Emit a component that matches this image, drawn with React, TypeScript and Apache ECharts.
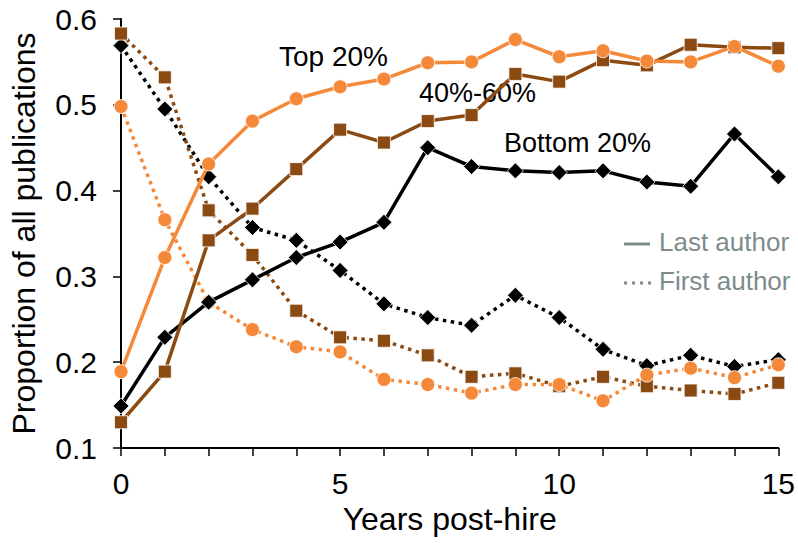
import React, { useEffect, useRef } from "react";
import * as echarts from "echarts";

const years = [0, 1, 2, 3, 4, 5, 6, 7, 8, 9, 10, 11, 12, 13, 14, 15];
const lastTop = [0.189, 0.322, 0.431, 0.481, 0.507, 0.521, 0.53, 0.549, 0.55, 0.576, 0.556, 0.563, 0.551, 0.55, 0.568, 0.545];
const lastMid = [0.13, 0.189, 0.342, 0.379, 0.425, 0.471, 0.456, 0.481, 0.488, 0.536, 0.527, 0.552, 0.546, 0.57, 0.567, 0.566];
const lastBottom = [0.149, 0.229, 0.27, 0.296, 0.322, 0.34, 0.363, 0.45, 0.428, 0.423, 0.421, 0.423, 0.41, 0.405, 0.466, 0.416];
const firstTop = [0.498, 0.366, 0.27, 0.238, 0.218, 0.212, 0.18, 0.174, 0.164, 0.174, 0.174, 0.155, 0.185, 0.193, 0.182, 0.197];
const firstMid = [0.583, 0.532, 0.377, 0.325, 0.26, 0.229, 0.225, 0.208, 0.183, 0.187, 0.172, 0.183, 0.172, 0.167, 0.163, 0.176];
const firstBottom = [0.569, 0.495, 0.416, 0.357, 0.342, 0.307, 0.268, 0.252, 0.243, 0.278, 0.252, 0.215, 0.196, 0.208, 0.195, 0.203];

const groupLabels = ["Top 20%", "40%-60%", "Bottom 20%"];
const legendLabels = ["Last author", "First author"];

const ORANGE = "#f5893a";
const BROWN = "#8a4a12";
const BLACK = "#000000";
const GRAY = "#7d8c8b";
const FONT = "'Liberation Sans', Arial, Helvetica, sans-serif";

function pairs(vals: number[]) {
  return years.map((y, i) => [y, vals[i]]);
}

function mkSeries(name: string, vals: number[], color: string, symbol: string, size: number, dotted: boolean, z: number) {
  return {
    name,
    type: "line",
    data: pairs(vals),
    symbol,
    symbolSize: size,
    showAllSymbol: true,
    z,
    itemStyle: { color, borderColor: "#ffffff", borderWidth: 0.8 },
    lineStyle: dotted
      ? { color, width: 3.5, type: [3.5, 4.5], cap: "butt" }
      : { color, width: 3.5, type: "solid" },
    emphasis: { disabled: true },
  };
}

export default function App() {
  const ref = useRef<HTMLDivElement>(null);
  useEffect(() => {
    if (!ref.current) return;
    const chart = echarts.init(ref.current, undefined, { renderer: "svg" });
    const option: any = {
      animation: false,
      backgroundColor: "#ffffff",
      grid: { left: 115, right: 19, top: 19, bottom: 95 },
      xAxis: {
        type: "value",
        min: 0,
        max: 15,
        interval: 1,
        name: "Years post-hire",
        nameLocation: "middle",
        nameGap: 55,
        nameTextStyle: { fontSize: 32, color: "#000", fontFamily: FONT },
        axisLine: { show: true, onZero: false, lineStyle: { color: "#000", width: 2 } },
        axisTick: { show: true, inside: false, length: 8, lineStyle: { color: "#000", width: 1.5 } },
        axisLabel: {
          fontSize: 30,
          color: "#000",
          fontFamily: FONT,
          margin: 20,
          formatter: (v: number) => (v % 5 === 0 ? String(v) : ""),
        },
        splitLine: { show: false },
      },
      yAxis: {
        type: "value",
        min: 0.1,
        max: 0.6,
        interval: 0.1,
        name: "Proportion of all publications",
        nameLocation: "middle",
        nameGap: 81,
        nameTextStyle: { fontSize: 32, color: "#000", fontFamily: FONT },
        axisLine: { show: true, onZero: false, lineStyle: { color: "#000", width: 2 } },
        axisTick: { show: true, inside: false, length: 8, lineStyle: { color: "#000", width: 1.5 } },
        axisLabel: {
          fontSize: 30,
          color: "#000",
          fontFamily: FONT,
          margin: 24,
          formatter: (v: number) => v.toFixed(1),
        },
        splitLine: { show: false },
      },
      series: [
        mkSeries("First Bottom 20%", firstBottom, BLACK, "diamond", 16, true, 2),
        mkSeries("First 40%-60%", firstMid, BROWN, "rect", 13, true, 3),
        mkSeries("First Top 20%", firstTop, ORANGE, "circle", 14, true, 4),
        mkSeries("Last Bottom 20%", lastBottom, BLACK, "diamond", 16, false, 5),
        mkSeries("Last 40%-60%", lastMid, BROWN, "rect", 13, false, 6),
        mkSeries("Last Top 20%", lastTop, ORANGE, "circle", 14, false, 7),
      ],
      graphic: [
        { type: "text", left: 279, top: 42, style: { text: groupLabels[0], fontSize: 28, fill: "#000", fontFamily: FONT } },
        { type: "text", left: 419, top: 79, style: { text: groupLabels[1], fontSize: 27, fill: "#000", fontFamily: FONT } },
        { type: "text", left: 504, top: 129, style: { text: groupLabels[2], fontSize: 27, fill: "#000", fontFamily: FONT } },
        { type: "line", shape: { x1: 624, y1: 244, x2: 650, y2: 244 }, style: { stroke: GRAY, lineWidth: 3 } },
        { type: "line", shape: { x1: 624, y1: 283, x2: 652, y2: 283 }, style: { stroke: GRAY, lineWidth: 3, lineDash: [3, 5] } },
        { type: "text", left: 659, top: 229, style: { text: legendLabels[0], fontSize: 26, fill: GRAY, fontFamily: FONT } },
        { type: "text", left: 659, top: 268, style: { text: legendLabels[1], fontSize: 26, fill: GRAY, fontFamily: FONT } },
      ],
    };
    chart.setOption(option);
    return () => chart.dispose();
  }, []);
  return (
    <div
      ref={ref}
      style={{ position: "fixed", left: 0, top: 0, width: 798, height: 543, background: "#fff" }}
    />
  );
}
